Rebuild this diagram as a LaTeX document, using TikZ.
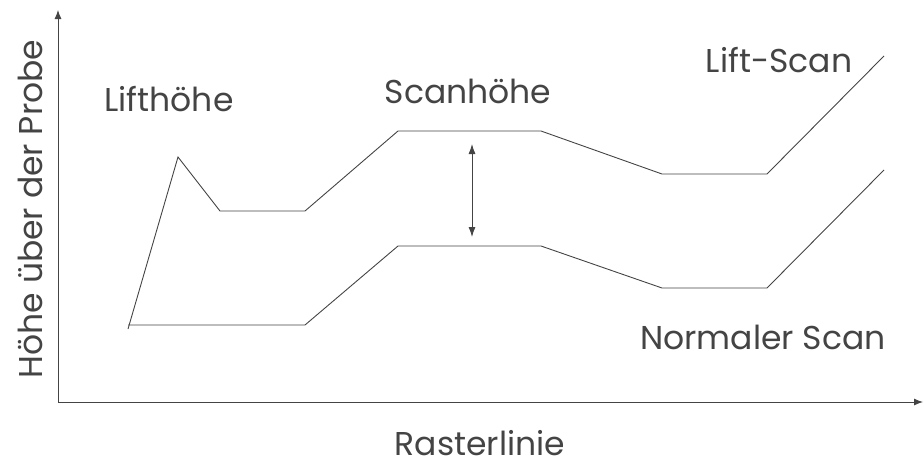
\documentclass[tikz,border=0pt]{standalone}
\usepackage{fontspec}
\setmainfont{Poppins}
\usetikzlibrary{arrows.meta}
\definecolor{ink}{HTML}{444444}

\begin{document}
\begin{tikzpicture}[x=1pt,y=-1pt,line width=0.9pt,draw=ink,
  tip/.style={-{Latex[length=9pt,width=7pt]}},
  lbl/.style={text=ink,font=\fontsize{33}{33}\selectfont,anchor=base,inner sep=0pt}]
	\useasboundingbox (0,0) rectangle (924,466);
	% axes
	\coordinate (O) at (58,402);
	\coordinate (Ytop) at (58,10);
	\coordinate (Xend) at (923,402);
	\draw[tip] (O) -- (Ytop);
	\draw[tip] (O) -- (Xend);
	% scan lines
	\draw (128,325) -- (305,325) -- (398,246) -- (541,246) -- (662,288) -- (767,288) -- (884,170);
	\draw (128,329) -- (178,157) -- (220,211) -- (305,211) -- (398,131) -- (541,131) -- (662,174) -- (767,174) -- (884,56);
	% distance
	\coordinate (A1) at (472,144);
	\coordinate (A2) at (472,237);
	\draw[{Latex[length=10pt,width=7pt]}-{Latex[length=10pt,width=7pt]}] (A1) -- (A2);
	% labels
	\node[lbl] (lifth) at (169,111) {Lifthöhe};
	\node[lbl] (scanh) at (468,103) {Scanhöhe};
	\node[lbl] (lifts) at (779,72) {Lift-Scan};
	\node[lbl] (norms) at (763,349) {Normaler Scan};
	\node[lbl] (xlab) at (480,455) {Rasterlinie};
	\node[lbl,rotate=90] (ylab) at (42,209) {Höhe über der Probe};
\end{tikzpicture}
\end{document}
